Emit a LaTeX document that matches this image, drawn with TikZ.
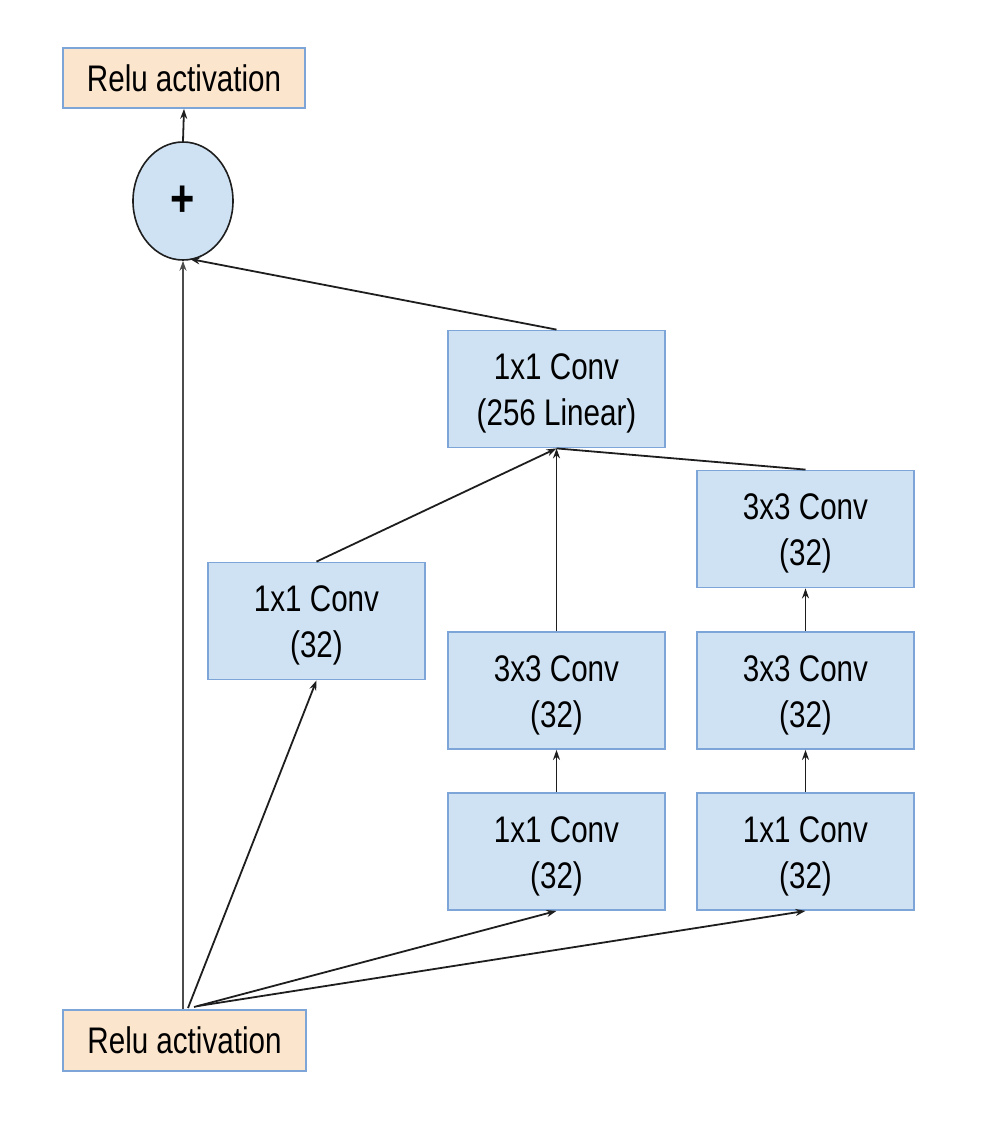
\documentclass[tikz,border=0pt]{standalone}
\usepackage{fontspec}
\setmainfont{Liberation Sans}[FakeStretch=0.8]
\usetikzlibrary{shapes.geometric,arrows.meta}
\definecolor{boxblue}{RGB}{207,226,243}
\definecolor{edgeblue}{RGB}{125,165,215}
\definecolor{peach}{RGB}{252,229,205}
\definecolor{linegray}{RGB}{30,30,30}
\newcommand{\tstrut}{\rule{0pt}{35pt}}
\begin{document}
\begin{tikzpicture}[x=1pt,y=-1pt,
 conv/.style={draw=edgeblue,fill=boxblue,line width=1.8pt,minimum width=217pt,minimum height=117pt,inner sep=0pt,align=center,font=\fontsize{37}{46}\selectfont},
 relu/.style={draw=edgeblue,fill=peach,line width=1.8pt,minimum width=242pt,minimum height=60pt,inner sep=0pt,font=\fontsize{37}{45}\selectfont},
 addnode/.style={ellipse,draw=linegray,fill=boxblue,line width=1.6pt,minimum width=100pt,minimum height=118pt,inner sep=0pt,font=\fontsize{52}{52}\selectfont\bfseries},
 arr/.style={-{Stealth[length=10pt,width=7pt]},line width=1.8pt,draw=linegray},
 plain/.style={line width=1.8pt,draw=linegray}]
\useasboundingbox (0,0) rectangle (986,1132);

\node[relu] (top) at (184,78) {Relu activation};
\node[addnode] (plus) at (183,201) {\raisebox{-3pt}{+}};
\node[conv] (lin) at (556.5,389) {\tstrut 1x1 Conv\\(256 Linear)};
\node[conv] (r3top) at (805.5,529) {\tstrut 3x3 Conv\\(32)};
\node[conv] (l1) at (316.5,621) {\tstrut 1x1 Conv\\(32)};
\node[conv] (m3) at (556.5,690.5) {\tstrut 3x3 Conv\\(32)};
\node[conv] (r3) at (805.5,690.5) {\tstrut 3x3 Conv\\(32)};
\node[conv] (m1) at (556.5,851.5) {\tstrut 1x1 Conv\\(32)};
\node[conv] (r1) at (805.5,851.5) {\tstrut 1x1 Conv\\(32)};
\node[relu,minimum width=243pt,minimum height=61pt] (bot) at (184.5,1040.5) {Relu activation};

\coordinate (b0) at (183,1009);
\coordinate (b1) at (188,1008);
\coordinate (b2) at (194,1007);
\coordinate (b3) at (198,1006);
\coordinate (plusin) at (190,259);

\draw[arr,draw=black!70] (b0) -- (plus.south);
\draw[arr] (b1) -- (l1.south);
\draw[arr] (b2) -- (m1.south);
\draw[arr] (b3) -- (r1.south);
\draw[arr] (m1.north) -- (m3.south);
\draw[arr] (m3.north) -- (lin.south);
\draw[arr] (r1.north) -- (r3.south);
\draw[arr] (r3.north) -- (r3top.south);
\draw[arr] (l1.north) -- (lin.south);
\draw[plain] (r3top.north) -- (lin.south);
\draw[arr] (lin.north) -- (plusin);
\draw[arr] (plus.north) -- (top.south);
\end{tikzpicture}
\end{document}
